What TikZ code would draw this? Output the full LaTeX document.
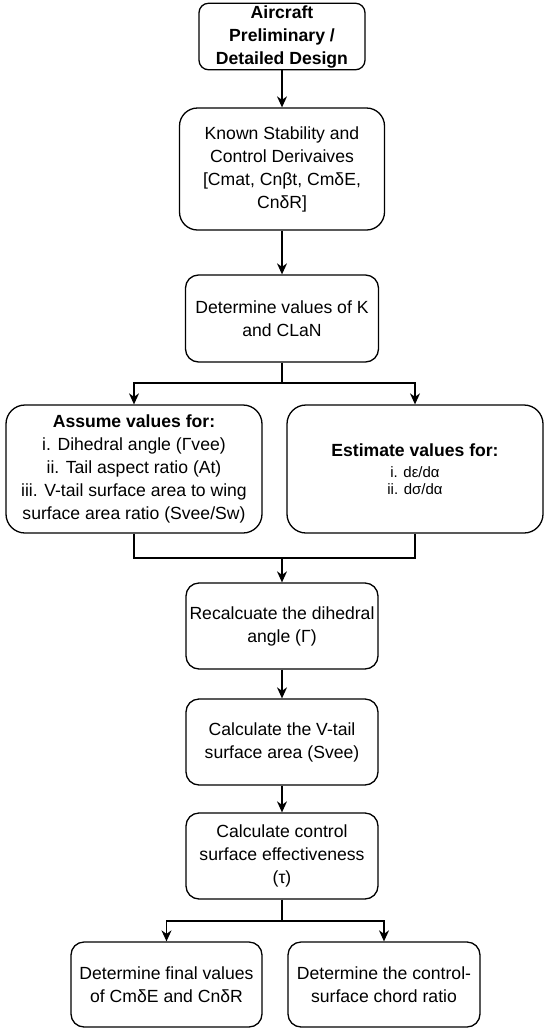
\documentclass[tikz,border=0pt]{standalone}
\usepackage{fontspec}
\setmainfont{Liberation Sans}
\usetikzlibrary{arrows.meta}
\newcommand\smalltxt{\fontsize{15}{18}\selectfont}
\tikzset{
  box/.style={draw=black, line width=1.3pt, fill=white, align=center, inner sep=2pt,
    font=\fontsize{17.6}{23}\selectfont},
  arr/.style={line width=1.3pt, -{Stealth[length=11pt,width=10pt,inset=3.5pt]}},
  ln/.style={line width=1.3pt},
}
\begin{document}
\begin{tikzpicture}[x=1pt,y=-1pt]
\useasboundingbox (0,0) rectangle (550,1034);
\fill[white] (0,0) rectangle (550,1034);
\node[box, minimum width=166pt, minimum height=63pt, rounded corners=9.5pt] (n1) at (282,36.5)
  {\textbf{Aircraft}\\\textbf{Preliminary /}\\\textbf{Detailed Design}};
\node[box, minimum width=205pt, minimum height=122pt, rounded corners=18pt] (n2) at (282,169)
  {Known Stability and\\Control Derivaives\\{[}Cmat, Cnβt, CmδE,\\CnδR{]}};
\node[box, minimum width=193pt, minimum height=87pt, rounded corners=13pt] (n3) at (282,318.5)
  {Determine values of K\\and CLaN};
\node[box, minimum width=256pt, minimum height=128pt, rounded corners=19pt] (n4) at (134,469)
  {\textbf{Assume values for:}\\i. Dihedral angle (Γvee)\\ii. Tail aspect ratio (At)\\iii. V-tail surface area to wing\\surface area ratio (Svee/Sw)};
\node[box, minimum width=256pt, minimum height=128pt, rounded corners=19pt] (n5) at (415,469)
  {\textbf{Estimate values for:}\\[-2pt]\smalltxt i. dε/dα\\[-6pt]\smalltxt ii. dσ/dα};
\node[box, minimum width=192pt, minimum height=86pt, rounded corners=13pt] (n6) at (282,626)
  {Recalcuate the dihedral\\angle (Γ)};
\node[box, minimum width=192pt, minimum height=86pt, rounded corners=13pt] (n7) at (282,742)
  {Calculate the V-tail\\surface area (Svee)};
\node[box, minimum width=192pt, minimum height=86pt, rounded corners=13pt] (n8) at (282,856)
  {Calculate control\\surface effectiveness\\(τ)};
\node[box, minimum width=191pt, minimum height=85pt, rounded corners=13pt] (n9) at (166.5,984.5)
  {Determine final values\\of CmδE and CnδR};
\node[box, minimum width=192pt, minimum height=85pt, rounded corners=13pt] (n10) at (384,984.5)
  {Determine the control-\\surface chord ratio};
\coordinate (b1) at (282,383);
\coordinate (m1) at (282,558);
\coordinate (b2) at (282,921);
\draw[arr] (n1.south) -- (n2.north);
\draw[arr] (n2.south) -- (n3.north);
\draw[ln] (n3.south) -- (b1);
\draw[arr] (b1) -| (n4.north);
\draw[arr] (b1) -| (n5.north);
\draw[ln] (n4.south) |- (m1);
\draw[ln] (n5.south) |- (m1);
\draw[arr] (m1) -- (n6.north);
\draw[arr] (n6.south) -- (n7.north);
\draw[arr] (n7.south) -- (n8.north);
\draw[ln] (n8.south) -- (b2);
\draw[arr] (b2) -| (n9.north);
\draw[arr] (b2) -| (n10.north);
\end{tikzpicture}
\end{document}
